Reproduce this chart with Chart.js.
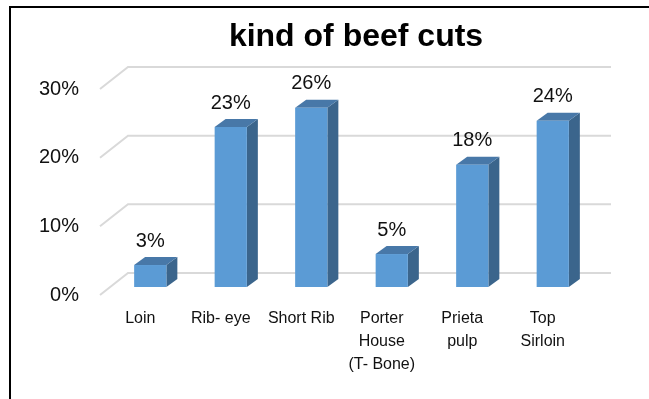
<!DOCTYPE html>
<html>
<head>
<meta charset="utf-8">
<script src="https://cdn.jsdelivr.net/npm/chart.js@4.4.1/dist/chart.umd.min.js"></script>
<style>
  html, body { margin: 0; padding: 0; background: #fff; }
  #wrap { width: 649px; height: 399px; }
</style>
</head>
<body>
<div id="wrap"><canvas id="beef-chart" width="649" height="399"></canvas></div>
<script>
// beef cut shares (percent)
const cutLabels = [['Loin'], ['Rib- eye'], ['Short Rib'], ['Porter', 'House', '(T- Bone)'], ['Prieta', 'pulp'], ['Top', 'Sirloin']];
const cutShares = [3.2, 23.3, 26.1, 4.8, 17.8, 24.2];
const yTicks = [0, 10, 20, 30];

const FONT = "'Liberation Sans', Arial, sans-serif";

// fake excel 3d look: depth offsets
const barShift = { x: 10, y: -8 };   // bars sit in the middle of the depth
const barDepth = { x: 11, y: -8 };
const wallShift = { x: 28, y: -22 }; // back wall gridlines

const frame3d = {
    id: 'frame3d',
    beforeDraw(chart) {
        const ctx = chart.ctx;
        ctx.save();
        ctx.strokeStyle = '#000';
        ctx.lineWidth = 2;
        ctx.strokeRect(10, 7, 700, 500);
        ctx.restore();
    },
    beforeDatasetsDraw(chart) {
        const ctx = chart.ctx;
        const y = chart.scales.y;
        const area = chart.chartArea;
        ctx.save();
        ctx.strokeStyle = '#d9d9d9';
        ctx.lineWidth = 2;
        yTicks.forEach(t => {
            const py = y.getPixelForValue(t);
            ctx.beginPath();
            ctx.moveTo(area.left, py);
            ctx.lineTo(area.left + wallShift.x, py + wallShift.y);
            ctx.lineTo(area.right + wallShift.x, py + wallShift.y);
            ctx.stroke();
        });
        ctx.restore();
    },
    afterDatasetsDraw(chart) {
        const ctx = chart.ctx;
        const meta = chart.getDatasetMeta(0);
        ctx.save();
        meta.data.forEach((bar, i) => {
            const p = bar.getProps(['x', 'y', 'base', 'width'], true);
            const l = p.x - p.width / 2 + barShift.x;
            const r = p.x + p.width / 2 + barShift.x;
            const top = p.y + barShift.y;
            const bot = p.base + barShift.y;
            // side
            ctx.fillStyle = '#3b658c';
            ctx.beginPath();
            ctx.moveTo(r, top);
            ctx.lineTo(r + barDepth.x, top + barDepth.y);
            ctx.lineTo(r + barDepth.x, bot + barDepth.y);
            ctx.lineTo(r, bot);
            ctx.closePath();
            ctx.fill();
            // top
            ctx.fillStyle = '#4878a8';
            ctx.beginPath();
            ctx.moveTo(l, top);
            ctx.lineTo(l + barDepth.x, top + barDepth.y);
            ctx.lineTo(r + barDepth.x, top + barDepth.y);
            ctx.lineTo(r, top);
            ctx.closePath();
            ctx.fill();
            // front
            ctx.fillStyle = '#5b9bd5';
            ctx.fillRect(l, top, r - l, bot - top);

            // value label
            ctx.fillStyle = '#111';
            ctx.font = '20px ' + FONT;
            ctx.textAlign = 'center';
            ctx.textBaseline = 'middle';
            ctx.fillText(Math.round(cutShares[i]) + '%', (l + r) / 2, top - 24);
        });
        ctx.restore();
    }
};

const ctx = document.getElementById('beef-chart').getContext('2d');
new Chart(ctx, {
    type: 'bar',
    data: {
        labels: cutLabels,
        datasets: [{
            data: cutShares,
            backgroundColor: 'rgba(0,0,0,0)',
            borderWidth: 0,
            categoryPercentage: 1,
            barPercentage: 0.4
        }]
    },
    options: {
        responsive: false,
        animation: false,
        // negative right padding so the title centre sits where it does in the original
        layout: { padding: { left: 30, right: -33, top: 0, bottom: 0 } },
        plugins: {
            legend: { display: false },
            tooltip: { enabled: false },
            title: {
                display: true,
                text: 'kind of beef cuts',
                color: '#000',
                font: { family: FONT, size: 32, weight: 'bold', lineHeight: 1 },
                padding: { top: 21, bottom: 36 }
            }
        },
        scales: {
            x: {
                grid: { display: false, drawTicks: false },
                border: { display: false },
                ticks: {
                    color: '#111',
                    font: { family: FONT, size: 16, lineHeight: 1.44 },
                    padding: 12,
                    maxRotation: 0,
                    autoSkip: false
                },
                afterFit(s) { s.height = 104; }
            },
            y: {
                min: 0,
                max: 30,
                grid: { display: false, drawTicks: false },
                border: { display: false },
                ticks: {
                    stepSize: 10,
                    color: '#111',
                    font: { family: FONT, size: 20 },
                    padding: 21,
                    callback: v => v + '%'
                },
                afterFit(s) { s.width = 70; }
            },
            yRight: {
                position: 'right',
                grid: { display: false, drawTicks: false },
                border: { display: false },
                ticks: { display: false },
                afterFit(s) { s.width = 99; }
            }
        }
    },
    plugins: [frame3d]
});
</script>
</body>
</html>
